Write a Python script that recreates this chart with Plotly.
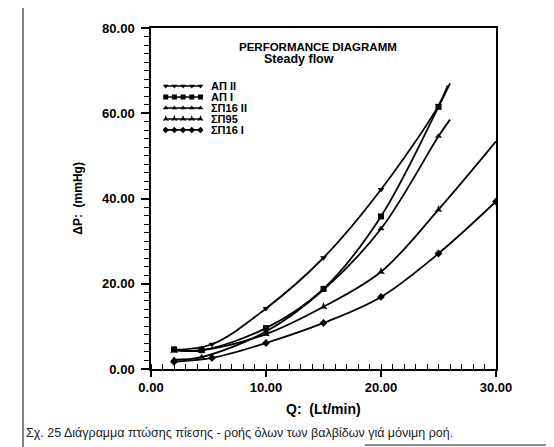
import plotly.graph_objects as go

# ---- data ----
series_names = ["ΑΠ II", "ΑΠ I", "ΣΠ16 II", "ΣΠ95", "ΣΠ16 I"]

q_ap2 = [2, 5.3, 10, 15, 20, 25, 25.8]
dp_ap2 = [4.5, 5.8, 14.2, 26.1, 42.1, 61.8, 66.5]

q_ap1 = [2, 4.4, 10, 15, 20, 25, 26]
dp_ap1 = [4.6, 4.4, 9.6, 18.8, 35.8, 61.5, 67.0]

q_sp16_2 = [2, 4.4, 10, 15, 20, 25, 26]
dp_sp16_2 = [2.2, 2.8, 8.8, 18.6, 32.9, 54.6, 58.5]

q_sp95 = [2, 4.4, 10, 15, 20, 25, 30]
dp_sp95 = [4.3, 4.4, 8.2, 14.6, 22.8, 37.4, 53.4]

q_sp16_1 = [2, 5.3, 10, 15, 20, 25, 30]
dp_sp16_1 = [1.7, 2.6, 6.1, 10.8, 16.9, 27.1, 39.3]

# how many leading points carry a marker (the rest is only the end of the fitted curve)
marker_counts = [6, 6, 6, 6, 7]

x_ticks = [0, 10, 20, 30]
x_tick_labels = ["0.00", "10.00", "20.00", "30.00"]
y_ticks = [0, 20, 40, 60, 80]
y_tick_labels = ["0.00", "20.00", "40.00", "60.00", "80.00"]

all_q = [q_ap2, q_ap1, q_sp16_2, q_sp95, q_sp16_1]
all_dp = [dp_ap2, dp_ap1, dp_sp16_2, dp_sp95, dp_sp16_1]
symbols = ["triangle-down", "square", "triangle-up", "star-triangle-up", "diamond"]

FONT = "Liberation Sans"
fig = go.Figure()

for name, q, dp, sym, nm in zip(series_names, all_q, all_dp, symbols, marker_counts):
    fig.add_trace(go.Scatter(
        x=q, y=dp, mode="lines", line=dict(color="black", width=1.8, shape="spline", smoothing=1.0),
        showlegend=False, hoverinfo="skip"))
    fig.add_trace(go.Scatter(
        x=q[:nm], y=dp[:nm], mode="markers", name=name,
        marker=dict(symbol=sym, size=6, color="black"), showlegend=False))

# hand-made compact legend (rows like the original)
row_y0 = 0.830   # paper y of first row
row_step = 0.0323
for i, (name, sym) in enumerate(zip(series_names, symbols)):
    fig.add_trace(go.Scatter(
        x=[0, 1, 2, 3, 4], y=[i] * 5, mode="lines+markers", xaxis="x2", yaxis="y2",
        line=dict(color="black", width=1.6), marker=dict(symbol=sym, size=5, color="black"),
        showlegend=False, hoverinfo="skip"))
    fig.add_annotation(x=0.168, y=row_y0 - i * row_step, xref="paper", yref="paper",
                       text="<b>" + name + "</b>",
                       showarrow=False, xanchor="left", yanchor="middle",
                       font=dict(family=FONT, size=11, color="black"))

fig.update_layout(
    width=546, height=439,
    margin=dict(l=143, r=58, t=20, b=78),
    paper_bgcolor="white", plot_bgcolor="white",
    font=dict(family=FONT, color="black"),
    xaxis=dict(range=[0, 30], showgrid=False, zeroline=False, showline=True, linecolor="black",
               linewidth=1.5, mirror=True, tickmode="array", tickvals=x_ticks,
               ticktext=["<b>%s</b>" % t for t in x_tick_labels], ticks="outside", ticklen=6,
               tickcolor="black", tickwidth=1.5, tickfont=dict(family=FONT, size=13),
               minor=dict(dtick=1, ticks="inside", ticklen=5, tickcolor="black", tickwidth=1.2)),
    yaxis=dict(range=[0, 80], showgrid=False, zeroline=False, showline=True, linecolor="black",
               linewidth=1.5, mirror=True, tickmode="array", tickvals=y_ticks,
               ticktext=["<b>%s</b>" % t for t in y_tick_labels], ticks="outside", ticklen=8,
               tickcolor="black", tickwidth=1.5, tickfont=dict(family=FONT, size=13),
               ticklabelstandoff=4,
               minor=dict(dtick=2, ticks="outside", ticklen=5, tickcolor="black", tickwidth=1.2)),
    xaxis2=dict(domain=[0.035, 0.151], range=[-0.3, 4.3], visible=False, anchor="y2"),
    yaxis2=dict(domain=[0.685, 0.846], range=[4.5, -0.5], visible=False, anchor="x2"),
)

# title lines
fig.add_annotation(x=0.484, y=0.944, xref="paper", yref="paper", showarrow=False,
                   text="<b>PERFORMANCE DIAGRAMM</b>", font=dict(family=FONT, size=11.5),
                   xanchor="center", yanchor="middle")
fig.add_annotation(x=0.429, y=0.909, xref="paper", yref="paper", showarrow=False,
                   text="<b>Steady flow</b>", font=dict(family=FONT, size=12.5),
                   xanchor="center", yanchor="middle")
# axis titles
fig.add_annotation(x=0.5, y=-0.117, xref="paper", yref="paper", showarrow=False,
                   text="<b>Q:  (Lt/min)</b>", font=dict(family=FONT, size=14),
                   xanchor="center", yanchor="middle")
fig.add_annotation(x=-0.214, y=0.5, xref="paper", yref="paper", showarrow=False,
                   text="<b>ΔP:  (mmHg)</b>", textangle=-90, font=dict(family=FONT, size=12),
                   xanchor="center", yanchor="middle")
# caption
fig.add_annotation(x=-0.368, y=-0.188, xref="paper", yref="paper", showarrow=False,
                   text="Σχ. 25 Διάγραμμα πτώσης πίεσης - ροής όλων των βαλβίδων γιά μόνιμη ροή.",
                   font=dict(family=FONT, size=12.5, color="#222"), xanchor="left", yanchor="middle")

# page frame lines
frame = dict(color="#333", width=1.2)
fig.add_shape(type="line", xref="paper", yref="paper", x0=-0.371, x1=-0.371, y0=1.067, y1=-0.229, line=frame)
fig.add_shape(type="line", xref="paper", yref="paper", x0=-0.371, x1=1.162, y0=1.067, y1=1.067, line=frame)
fig.add_shape(type="line", xref="paper", yref="paper", x0=1.162, x1=1.162, y0=1.067, y1=0.35,
              line=dict(color="#888", width=1))
fig.add_shape(type="line", xref="paper", yref="paper", x0=0.62, x1=1.17, y0=-0.223, y1=-0.223,
              line=dict(color="#666", width=1.5))

fig.write_html("out.html")
